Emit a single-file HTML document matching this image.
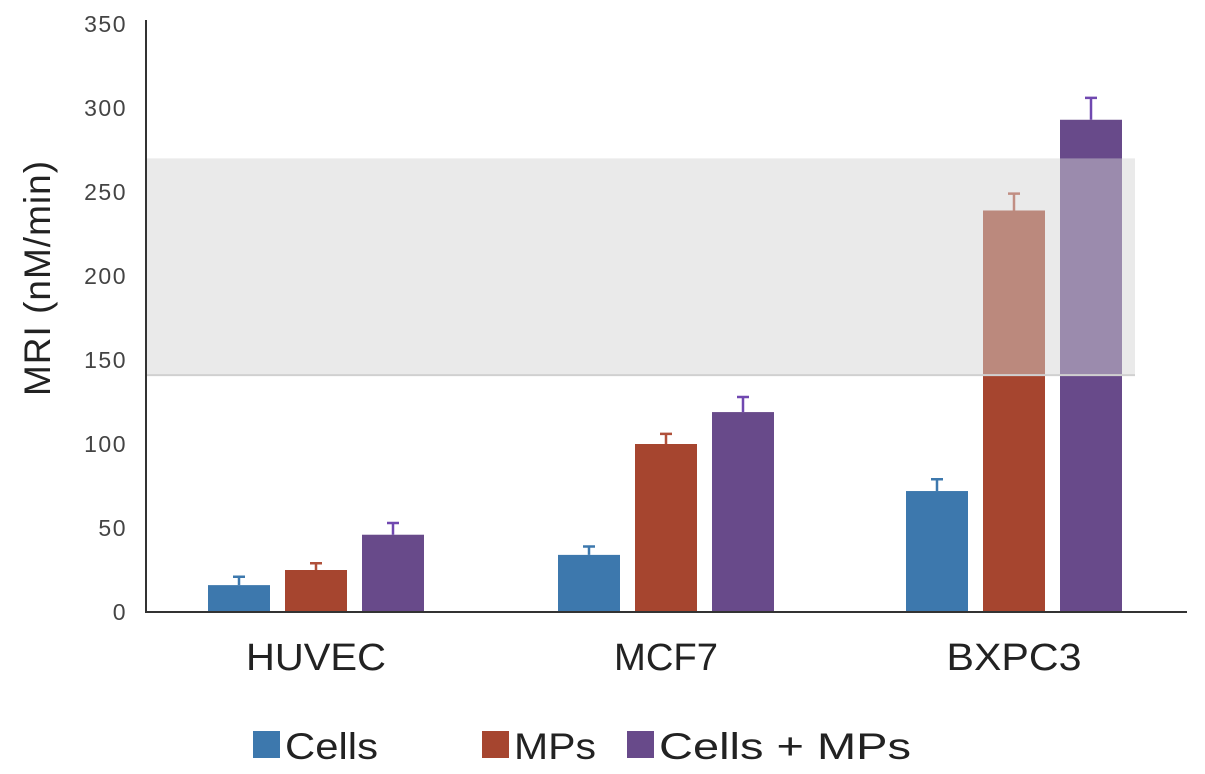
<!DOCTYPE html>
<html><head><meta charset="utf-8"><style>
html,body{margin:0;padding:0;background:#fff;}
svg{display:block;font-family:"Liberation Sans",sans-serif;}
</style></head><body>
<svg id="chart" width="1205" height="774"></svg>
<script>
const categories = ["HUVEC","MCF7","BXPC3"];
const seriesNames = ["Cells","MPs","Cells + MPs"];
const cellsValues = [16, 34, 72];
const mpsValues = [25, 100, 239];
const bothValues = [46, 119, 293];
const cellsErr = [5, 5, 7];
const mpsErr = [4, 6, 10];
const bothErr = [7, 9, 13];
const yTicks = [0,50,100,150,200,250,300,350];
const bandRange = [141, 270];

const NS="http://www.w3.org/2000/svg";
const svg=document.getElementById('chart');
function mk(tag,attrs,parent){const e=document.createElementNS(NS,tag);for(const k in attrs)e.setAttribute(k,attrs[k]);(parent||svg).appendChild(e);return e;}
const x0=146,x1=1187,yBase=612,yTop=24,yMax=350;
const y=v=>yBase-(v/yMax)*(yBase-yTop);
const groupStart=[208,558,906], barW=62, step=77;
const colors=["#3d78ad","#a6452f","#684a8a"];
const errColors=["#3d78ad","#b0503a","#7048b0"];
const values=[cellsValues,mpsValues,bothValues];
const errs=[cellsErr,mpsErr,bothErr];
const catLens=[140,104,135];
const legLens=[93,82,252];

yTicks.forEach(t=>{
  const tx=mk('text',{x:127,y:y(t)+8,'text-anchor':'end','font-size':23,'letter-spacing':1.5,fill:'#444'});
  tx.textContent=t;
  
  
});
const yt=mk('text',{x:0,y:0,transform:'translate(50,278) rotate(-90)','text-anchor':'middle','font-size':37,'letter-spacing':1,fill:'#222'});
yt.textContent="MRI (nM/min)";



categories.forEach((c,i)=>{
  values.forEach((vals,s)=>{
    const bx=groupStart[i]+s*step;
    const r=mk('rect',{x:bx,y:y(vals[i]),width:barW,height:yBase-y(vals[i]),fill:colors[s]});
    
    
    const cx=bx+barW/2, te=y(vals[i]+errs[s][i]);
    const e=mk('path',{d:`M${cx},${y(vals[i])}V${te}M${cx-6},${te}H${cx+6}`,stroke:errColors[s],'stroke-width':2.5,fill:'none'});
    
    
  });
  const cxm=groupStart[i]+step+barW/2;
  const t=mk('text',{x:cxm-catLens[i]/2,y:670,'font-size':38,fill:'#222',textLength:catLens[i],lengthAdjust:'spacingAndGlyphs'});
  t.textContent=c;
  
  
});

const band=mk('rect',{x:145,y:y(bandRange[1]),width:990,height:y(bandRange[0])-y(bandRange[1]),fill:'rgba(212,212,212,0.48)'});


const bl=mk('line',{x1:145,x2:1135,y1:y(bandRange[0]),y2:y(bandRange[0]),stroke:'#d0d0d0','stroke-width':2});



const ax=mk('path',{d:`M${x0},20V${yBase}H${x1}`,stroke:'#333','stroke-width':2,fill:'none'});



const legX=[253,482,627];
seriesNames.forEach((n,s)=>{
  const g=mk('g',{});
  
  
  mk('rect',{x:legX[s],y:731,width:27,height:27,fill:colors[s]},g);
  const t=mk('text',{x:legX[s]+32,y:759,'font-size':37,fill:'#222',textLength:legLens[s],lengthAdjust:'spacingAndGlyphs'},g);
  t.textContent=n;
});
</script>
</body></html>
